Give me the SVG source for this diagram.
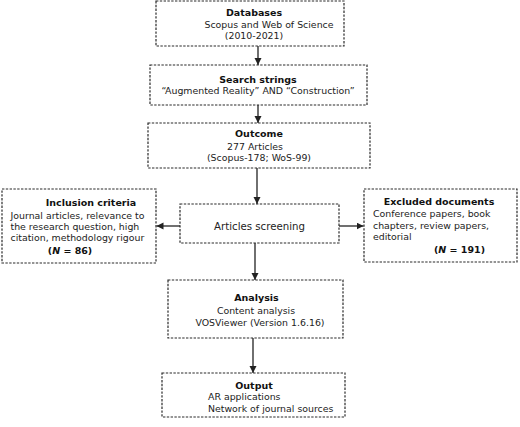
<svg xmlns="http://www.w3.org/2000/svg" width="520" height="427" viewBox="0 0 520 427">
<style>
.box{fill:#fff;stroke:#2a2a2a;stroke-width:1.2;stroke-dasharray:2.4 1.4}
.t{font-family:"DejaVu Sans",sans-serif;font-size:9.5px;font-weight:bold;fill:#111;text-anchor:middle}
.b{font-family:"DejaVu Sans",sans-serif;font-size:9.4px;fill:#222}
.c{text-anchor:middle}
.s{font-size:10.2px}
.e{stroke:#222;stroke-width:1.3;fill:none;marker-end:url(#ah)}
</style>
<defs>
<marker id="ah" markerUnits="userSpaceOnUse" markerWidth="8" markerHeight="8" refX="7" refY="3.5" orient="auto">
<path d="M0,0 L7,3.5 L0,7 Z" fill="#222"/>
</marker>
</defs>
<rect width="520" height="427" fill="#fff"/>
<g id="connectors">
<line class="e" x1="258" y1="46" x2="258" y2="65"/>
<line class="e" x1="258" y1="105" x2="258" y2="123"/>
<line class="e" x1="257" y1="168" x2="257" y2="204"/>
<line class="e" x1="180" y1="226" x2="156.5" y2="226"/>
<line class="e" x1="339" y1="226" x2="363.5" y2="226"/>
<line class="e" x1="255" y1="243" x2="255" y2="280"/>
<line class="e" x1="253" y1="338" x2="253" y2="373"/>
</g>
<g id="databases">
<rect class="box" x="156" y="1" width="188" height="45"/>
<text class="t" x="254" y="16">Databases</text>
<text class="b c" x="269" y="28">Scopus and Web of Science</text>
<text class="b c" x="254" y="38.5">(2010-2021)</text>
</g>
<g id="search">
<rect class="box" x="150" y="65" width="217" height="40"/>
<text class="t" x="258" y="82.5">Search strings</text>
<text class="b c" x="258" y="93.5">“Augmented Reality” AND “Construction”</text>
</g>
<g id="outcome">
<rect class="box" x="148" y="123" width="222" height="45"/>
<text class="t" x="259" y="136.5">Outcome</text>
<text class="b c" x="255" y="149.5">277 Articles</text>
<text class="b c" x="259" y="161">(Scopus-178; WoS-99)</text>
</g>
<g id="screening">
<rect class="box" x="180" y="204" width="159" height="39"/>
<text class="b c s" x="259.5" y="229.5">Articles screening</text>
</g>
<g id="inclusion">
<rect class="box" x="2" y="189" width="154" height="74"/>
<text class="t" x="91" y="206">Inclusion criteria</text>
<text class="b" x="10.5" y="218.5">Journal articles, relevance to</text>
<text class="b" x="10.5" y="230">the research question, high</text>
<text class="b" x="10.5" y="240.5">citation, methodology rigour</text>
<text class="t" x="70" y="253.5">(<tspan font-style="italic">N</tspan> = 86)</text>
</g>
<g id="excluded">
<rect class="box" x="364" y="189" width="153" height="73"/>
<text class="t" x="439" y="205">Excluded documents</text>
<text class="b" x="373" y="216.5">Conference papers, book</text>
<text class="b" x="373" y="228.5">chapters, review papers,</text>
<text class="b" x="373" y="240">editorial</text>
<text class="t" x="459.5" y="252.5">(<tspan font-style="italic">N</tspan> = 191)</text>
</g>
<g id="analysis">
<rect class="box" x="168" y="280" width="175" height="58"/>
<text class="t" x="256.5" y="301">Analysis</text>
<text class="b c" x="256" y="314">Content analysis</text>
<text class="b c" x="260" y="325.5">VOSViewer (Version 1.6.16)</text>
</g>
<g id="output">
<rect class="box" x="162" y="373" width="183" height="44"/>
<text class="t" x="254" y="389">Output</text>
<text class="b" x="208" y="400">AR applications</text>
<text class="b" x="208" y="411.5">Network of journal sources</text>
</g>
</svg>
